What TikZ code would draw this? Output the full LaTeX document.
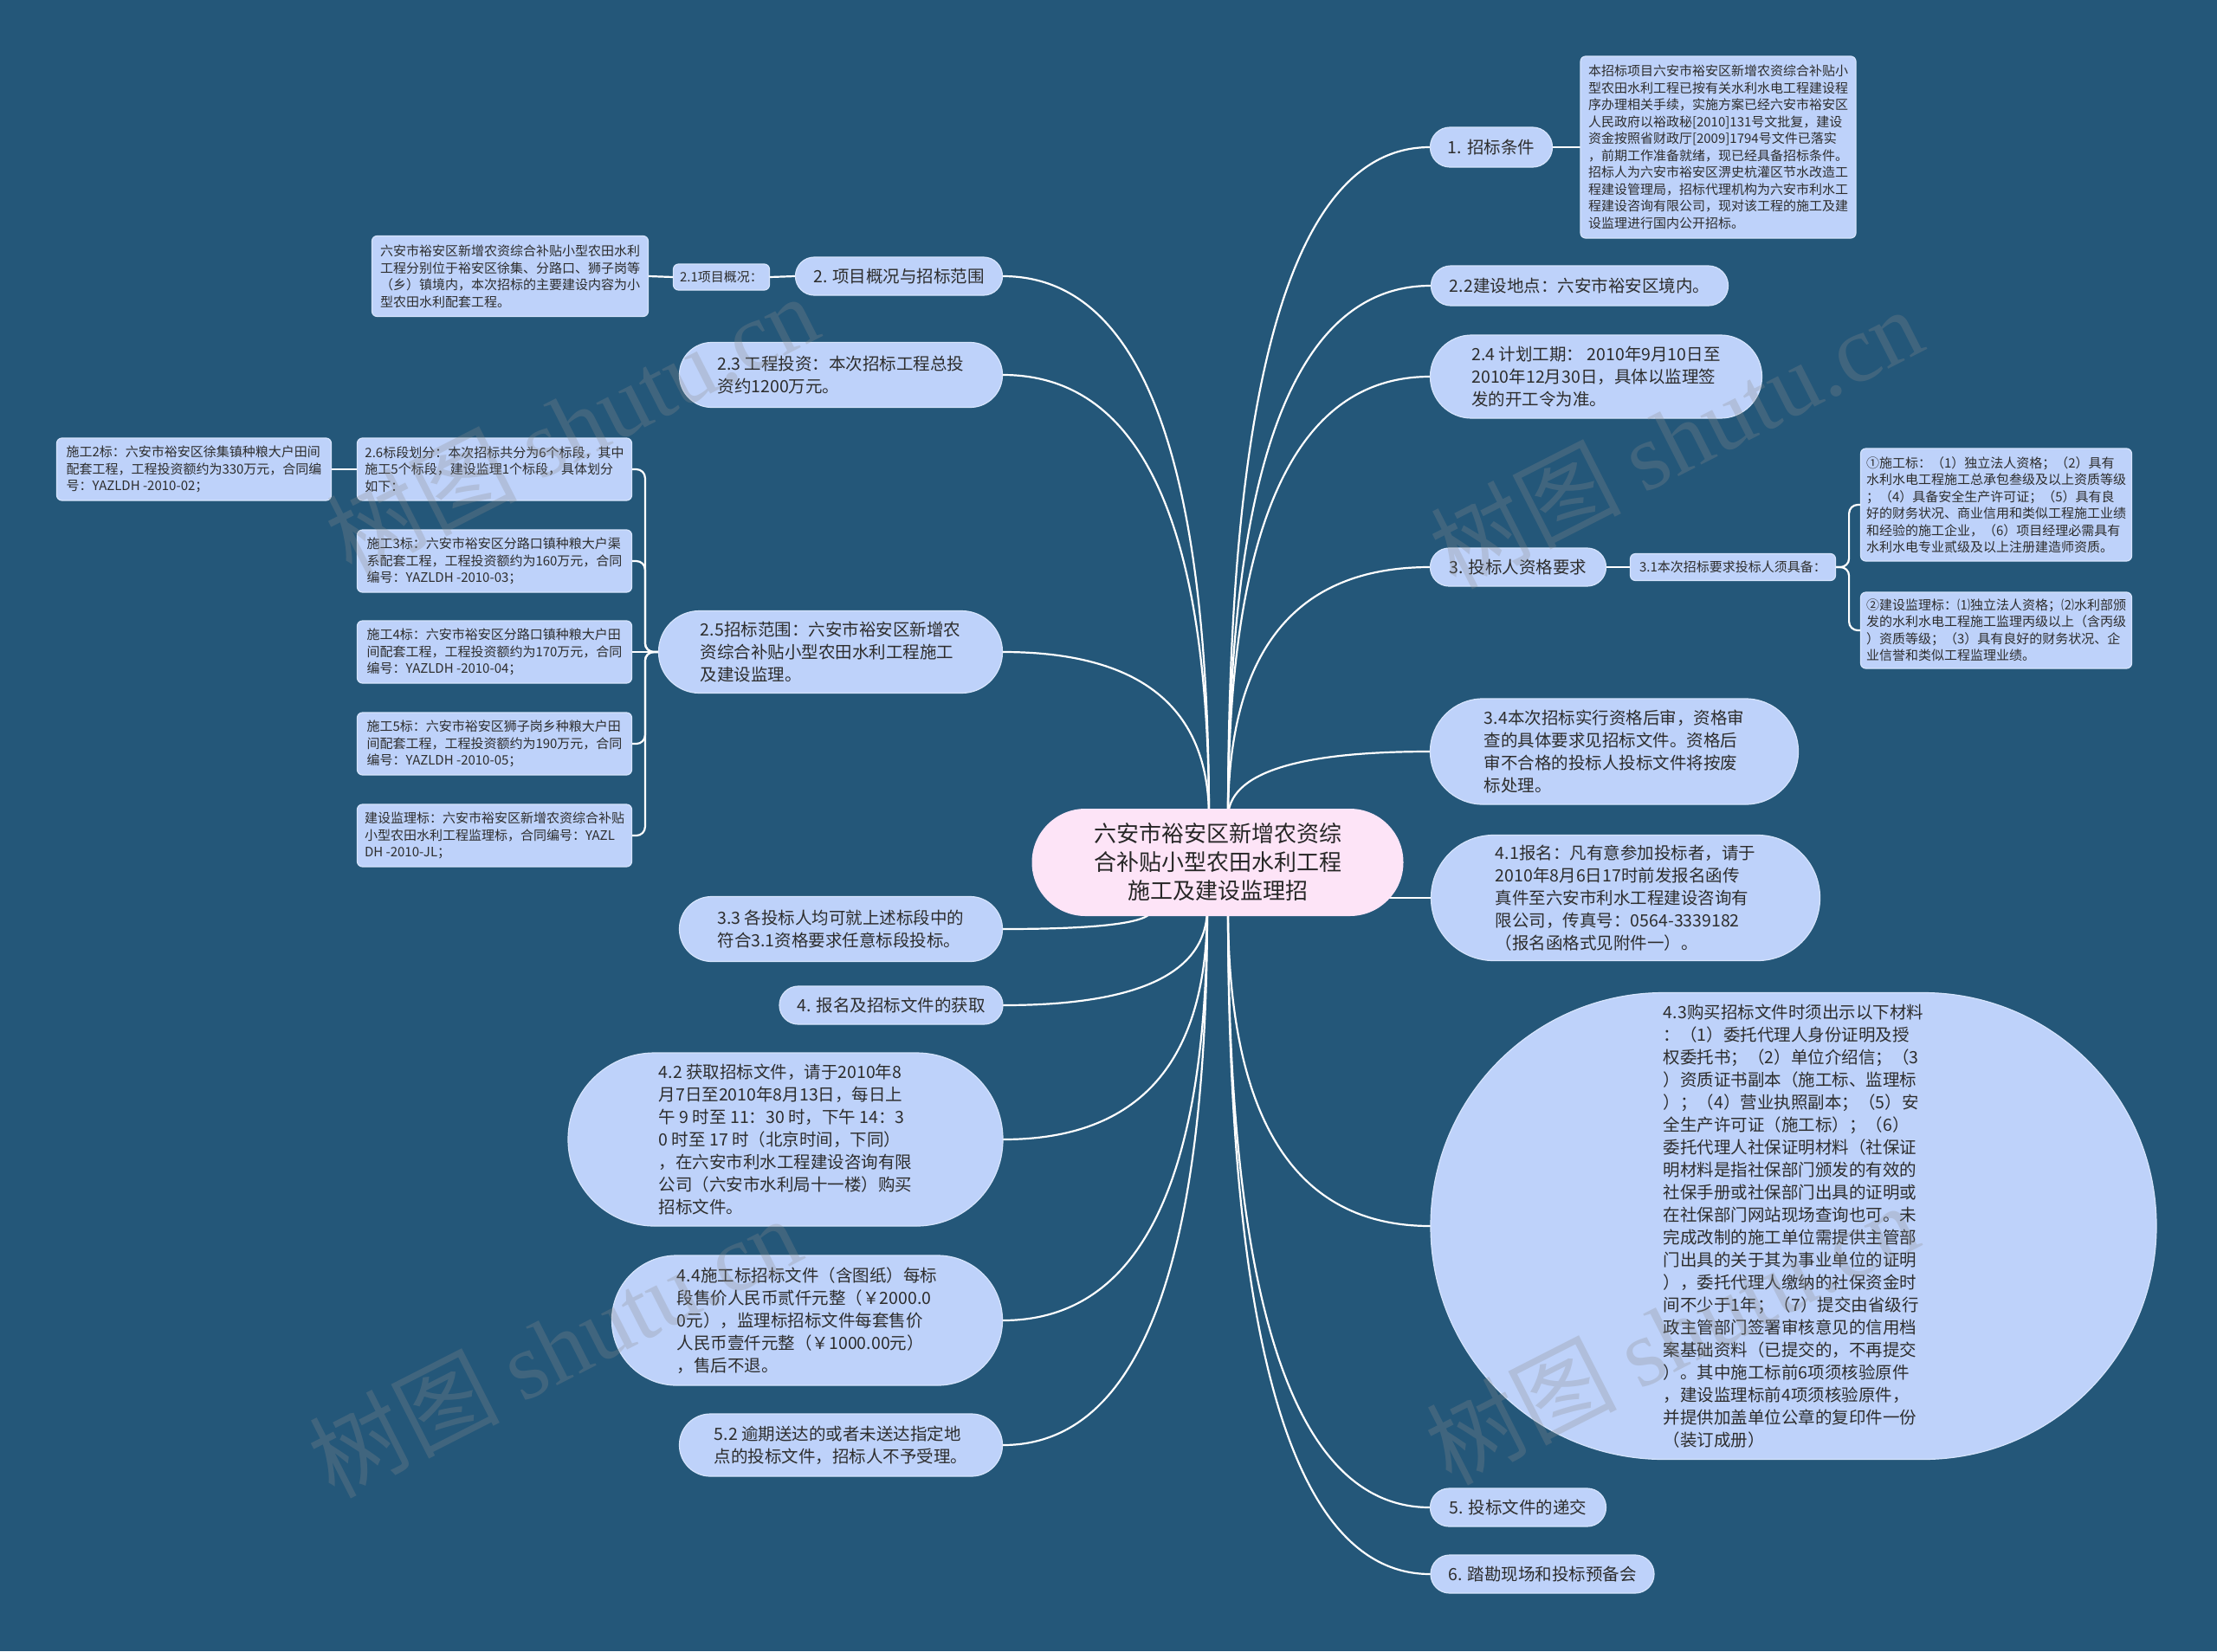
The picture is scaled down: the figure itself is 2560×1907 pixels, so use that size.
\documentclass[tikz,border=0pt]{standalone}
\usepackage{fontspec}
\setmainfont{Noto Sans CJK SC}
\newfontfamily\wmserif{Liberation Serif}
\usetikzlibrary{calc}
\definecolor{bgc}{RGB}{36,87,121}
\definecolor{nodefill}{RGB}{190,210,250}
\definecolor{nodeline}{RGB}{214,228,252}
\definecolor{pinkfill}{RGB}{253,228,247}
\definecolor{txt}{RGB}{45,45,45}
\definecolor{wm}{RGB}{140,140,140}
\pgfdeclarelayer{bg}
\pgfdeclarelayer{lines}
\pgfsetlayers{bg,lines,main}
\newcommand\qlink[2]{%
  \coordinate (qc) at (#1 |- #2);
  \draw[link] (#1) .. controls ($(#1)!0.667!(qc)$) and ($(#2)!0.667!(qc)$) .. (#2);}
\tikzset{
  link/.style={draw=white, line width=1.1pt, line cap=round},
  sz/.style 2 args={minimum width=#1*0.5pt, minimum height=#2*0.5pt},
  base/.style={inner sep=0pt, text=txt, fill=nodefill, draw=nodeline, line width=0.6pt, align=left},
  pill/.style 2 args={base, sz={#1}{#2}, rounded corners=#2*0.25pt-0.1pt, font=\fontsize{9.75pt}{13pt}\selectfont},
  sbox/.style 2 args={base, sz={#1}{#2}, rounded corners=3pt, font=\fontsize{7.5pt}{9.75pt}\selectfont},
  wmark/.style={rotate=27, text=wm, text opacity=0.28, font=\fontsize{55pt}{55pt}\selectfont},
}
\begin{document}
\begin{tikzpicture}[x=0.5pt,y=-0.5pt]
\useasboundingbox (0,0) rectangle (2560,1907);
\begin{pgfonlayer}{bg}
\fill[bgc] (0,0) rectangle (2560,1907);
\end{pgfonlayer}

% center
\node[base, fill=pinkfill, draw=none, sz={429}{124}, rounded corners=30.9pt, align=center,
      font=\fontsize{13pt}{16.5pt}\selectfont, text=black!85] (c) at (1406,996)
 {六安市裕安区新增农资综\\合补贴小型农田水利工程\\施工及建设监理招};

% right side
\node[pill={141}{46}] (n1) at (1722,170) {1. 招标条件};
\node[sbox={318}{210}] (n1a) at (1984,170)
 {本招标项目六安市裕安区新增农资综合补贴小\\型农田水利工程已按有关水利水电工程建设程\\序办理相关手续，实施方案已经六安市裕安区\\人民政府以裕政秘[2010]131号文批复，建设\\资金按照省财政厅[2009]1794号文件已落实\\，前期工作准备就绪，现已经具备招标条件。\\招标人为六安市裕安区淠史杭灌区节水改造工\\程建设管理局，招标代理机构为六安市利水工\\程建设咨询有限公司，现对该工程的施工及建\\设监理进行国内公开招标。};
\node[pill={343}{46}] (n2) at (1824,330) {2.2建设地点：六安市裕安区境内。};
\node[pill={383}{96}] (n3) at (1843,435) {2.4 计划工期： 2010年9月10日至\\2010年12月30日，具体以监理签\\发的开工令为准。};
\node[pill={203}{44}] (n4) at (1753,655) {3. 投标人资格要求};
\node[sbox={237}{31}] (n4a) at (2001,655) {3.1本次招标要求投标人须具备：};
\node[sbox={313}{130}] (n4b) at (2305,583)
 {①施工标：（1）独立法人资格；（2）具有\\水利水电工程施工总承包叁级及以上资质等级\\；（4）具备安全生产许可证；（5）具有良\\好的财务状况、商业信用和类似工程施工业绩\\和经验的施工企业，（6）项目经理必需具有\\水利水电专业贰级及以上注册建造师资质。};
\node[sbox={313}{88}] (n4c) at (2305,728)
 {②建设监理标：⑴独立法人资格；⑵水利部颁\\发的水利水电工程施工监理丙级以上（含丙级\\）资质等级；（3）具有良好的财务状况、企\\业信誉和类似工程监理业绩。};
\node[pill={425}{122}] (n5) at (1864,868)
 {3.4本次招标实行资格后审，资格审\\查的具体要求见招标文件。资格后\\审不合格的投标人投标文件将按废\\标处理。};
\node[pill={449}{145}] (n6) at (1877,1037)
 {4.1报名：凡有意参加投标者，请于\\2010年8月6日17时前发报名函传\\真件至六安市利水工程建设咨询有\\限公司，传真号：0564-3339182\\（报名函格式见附件一）。};
\node[pill={838}{539}] (n7) at (2071,1416)
 {4.3购买招标文件时须出示以下材料\\：（1）委托代理人身份证明及授\\权委托书；（2）单位介绍信；（3\\）资质证书副本（施工标、监理标\\）；（4）营业执照副本；（5）安\\全生产许可证（施工标）；（6）\\委托代理人社保证明材料（社保证\\明材料是指社保部门颁发的有效的\\社保手册或社保部门出具的证明或\\在社保部门网站现场查询也可。未\\完成改制的施工单位需提供主管部\\门出具的关于其为事业单位的证明\\），委托代理人缴纳的社保资金时\\间不少于1年；（7）提交由省级行\\政主管部门签署审核意见的信用档\\案基础资料（已提交的，不再提交\\）。其中施工标前6项须核验原件\\，建设监理标前4项须核验原件，\\并提供加盖单位公章的复印件一份\\（装订成册）};
\node[pill={203}{44}] (n8) at (1753,1741) {5. 投标文件的递交};
\node[pill={258}{44}] (n9) at (1781,1818) {6. 踏勘现场和投标预备会};

% left side
\node[pill={239}{44}] (m1) at (1038,319) {2. 项目概况与招标范围};
\node[sbox={111}{30}] (m1a) at (833,320) {2.1项目概况：};
\node[sbox={319}{93}] (m1b) at (589,319)
 {六安市裕安区新增农资综合补贴小型农田水利\\工程分别位于裕安区徐集、分路口、狮子岗等\\（乡）镇境内，本次招标的主要建设内容为小\\型农田水利配套工程。};
\node[pill={373}{75}] (m2) at (971,433) {2.3 工程投资：本次招标工程总投\\资约1200万元。};
\node[pill={397}{95}] (m3) at (959,753) {2.5招标范围：六安市裕安区新增农\\资综合补贴小型农田水利工程施工\\及建设监理。};
\node[sbox={317}{72}] (m3a) at (571,542) {2.6标段划分：本次招标共分为6个标段，其中\\施工5个标段，建设监理1个标段，具体划分\\如下：};
\node[sbox={317}{72}] (m3a1) at (224,542) {施工2标：六安市裕安区徐集镇种粮大户田间\\配套工程，工程投资额约为330万元，合同编\\号：YAZLDH -2010-02；};
\node[sbox={317}{72}] (m3b) at (571,648) {施工3标：六安市裕安区分路口镇种粮大户渠\\系配套工程，工程投资额约为160万元，合同\\编号：YAZLDH -2010-03；};
\node[sbox={317}{72}] (m3c) at (571,753) {施工4标：六安市裕安区分路口镇种粮大户田\\间配套工程，工程投资额约为170万元，合同\\编号：YAZLDH -2010-04；};
\node[sbox={317}{72}] (m3d) at (571,859) {施工5标：六安市裕安区狮子岗乡种粮大户田\\间配套工程，工程投资额约为190万元，合同\\编号：YAZLDH -2010-05；};
\node[sbox={317}{72}] (m3e) at (571,965) {建设监理标：六安市裕安区新增农资综合补贴\\小型农田水利工程监理标，合同编号：YAZL\\DH -2010-JL；};
\node[pill={373}{75}] (m4) at (971,1073) {3.3 各投标人均可就上述标段中的\\符合3.1资格要求任意标段投标。};
\node[pill={258}{44}] (m5) at (1029,1161) {4. 报名及招标文件的获取};
\node[pill={502}{200}] (m6) at (907,1316)
 {4.2 获取招标文件，请于2010年8\\月7日至2010年8月13日，每日上\\午 9 时至 11：30 时，下午 14：3\\0 时至 17 时（北京时间，下同）\\，在六安市利水工程建设咨询有限\\公司（六安市水利局十一楼）购买\\招标文件。};
\node[pill={451}{150}] (m7) at (932,1525)
 {4.4施工标招标文件（含图纸）每标\\段售价人民币贰仟元整（￥2000.0\\0元），监理标招标文件每套售价\\人民币壹仟元整（￥1000.00元）\\，售后不退。};
\node[pill={373}{72}] (m8) at (971,1669) {5.2 逾期送达的或者未送达指定地\\点的投标文件，招标人不予受理。};

% connectors
\begin{pgfonlayer}{lines}
\coordinate (ctr) at ($(c.north)+(12,11)$);
\coordinate (ctl) at ($(c.north)+(-10,11)$);
\coordinate (cbr) at ($(c.south)+(12,-10)$);
\coordinate (cbl) at ($(c.south)+(-12,-10)$);
\coordinate (cml) at ($(c.south)+(-76,-8)$);
\coordinate (cmr) at ($(c.east |- n6.west)+(-30,0)$);
\qlink{ctr}{n1.west}
\qlink{ctr}{n2.west}
\qlink{ctr}{n3.west}
\qlink{ctr}{n4.west}
\qlink{ctr}{n5.west}
\draw[link] (cmr) -- (n6.west);
\qlink{cbr}{n7.west}
\qlink{cbr}{n8.west}
\qlink{cbr}{n9.west}
\qlink{ctl}{m1.east}
\qlink{ctl}{m2.east}
\qlink{ctl}{m3.east}
\qlink{cml}{m4.east}
\qlink{cbl}{m5.east}
\qlink{cbl}{m6.east}
\qlink{cbl}{m7.east}
\qlink{cbl}{m8.east}
\draw[link] (n1.east) -- (n1a.west);
\draw[link] (m1.west) -- (m1a.east);
\draw[link] (m1a.west) -- (m1b.east);
\draw[link] (n4.east) -- (n4a.west);
\coordinate (t31) at ($(n4a.east)+(15,0)$);
\draw[link, rounded corners=5pt] (n4a.east) -- (t31) |- (n4b.west);
\draw[link, rounded corners=5pt] (n4a.east) -- (t31) |- (n4c.west);
\coordinate (t25) at ($(m3.west)+(-15,0)$);
\draw[link, rounded corners=5pt] (m3.west) -- (t25) |- (m3a.east);
\draw[link, rounded corners=5pt] (m3.west) -- (t25) |- (m3b.east);
\draw[link] (m3.west) -- (m3c.east);
\draw[link, rounded corners=5pt] (m3.west) -- (t25) |- (m3d.east);
\draw[link, rounded corners=5pt] (m3.west) -- (t25) |- (m3e.east);
\draw[link] (m3a.west) -- (m3a1.east);
\end{pgfonlayer}

% watermarks
\node[wmark] (w1) at (660,490) {树图 {\wmserif shutu.cn}};
\node[wmark] (w2) at (1935,505) {树图 {\wmserif shutu.cn}};
\node[wmark] (w3) at (640,1555) {树图 {\wmserif shutu.cn}};
\node[wmark] (w4) at (1930,1540) {树图 {\wmserif shutu.cn}};
\end{tikzpicture}
\end{document}
